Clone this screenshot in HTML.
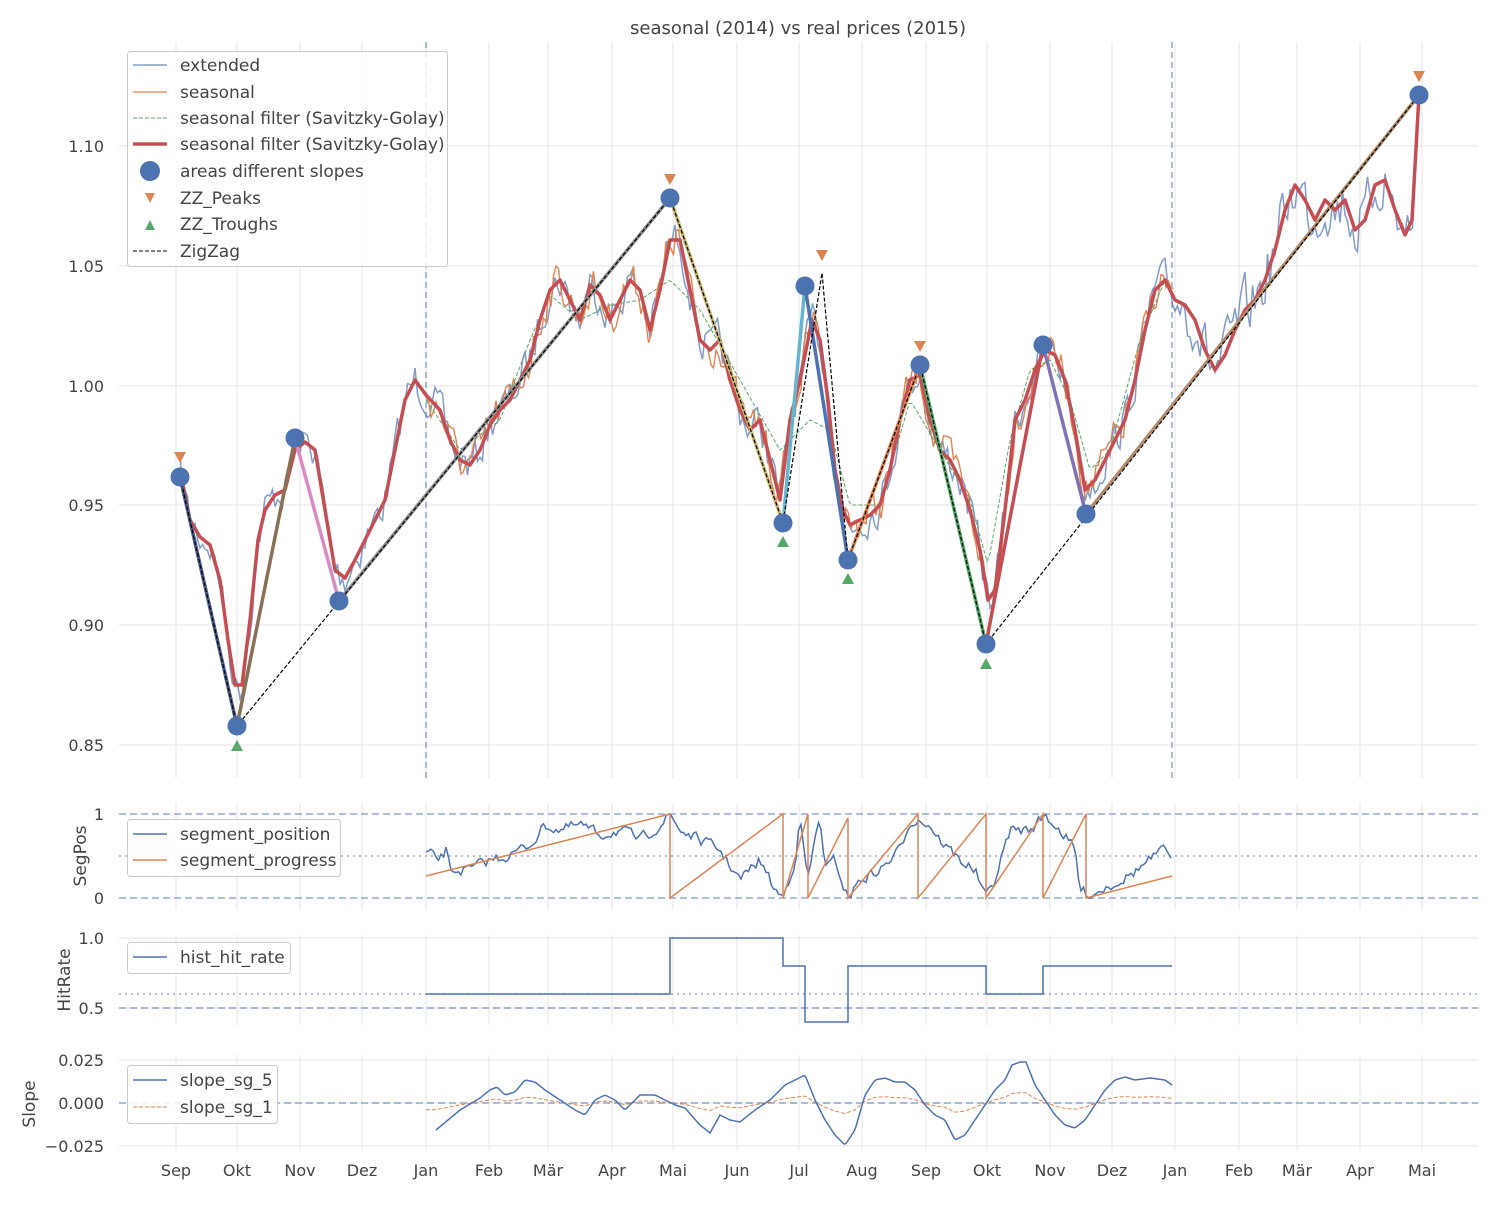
<!DOCTYPE html>
<html><head><meta charset="utf-8"><style>
body{margin:0;background:#fff}
svg text{font-family:"DejaVu Sans","Liberation Sans",sans-serif;fill:#444}
</style></head><body>
<svg id="s" width="1500" height="1200" viewBox="0 0 1500 1200" xmlns="http://www.w3.org/2000/svg">
<rect width="1500" height="1200" fill="#fff"/>
<g id="grid" stroke="#e5e5e5" stroke-width="1"></g>
<g id="plot"></g>
<text x="798" y="34" text-anchor="middle" font-size="18">seasonal (2014) vs real prices (2015)</text>
<g font-size="16" text-anchor="end">
<text x="104" y="152">1.10</text><text x="104" y="272">1.05</text><text x="104" y="392">1.00</text>
<text x="104" y="511">0.95</text><text x="104" y="631">0.90</text><text x="104" y="751">0.85</text>
<text x="104" y="820">1</text><text x="104" y="904">0</text>
<text x="104" y="944">1.0</text><text x="104" y="1014">0.5</text>
<text x="104" y="1066">0.025</text><text x="104" y="1109">0.000</text><text x="104" y="1152">−0.025</text>
</g>
<g font-size="17">
<text transform="translate(86,856) rotate(-90)" text-anchor="middle">SegPos</text>
<text transform="translate(70,980) rotate(-90)" text-anchor="middle">HitRate</text>
<text transform="translate(35,1104) rotate(-90)" text-anchor="middle">Slope</text>
</g>
<g id="xt" font-size="16" text-anchor="middle"></g>
<g>
<rect x="127.5" y="51.5" width="320" height="215" rx="3" fill="#fff" fill-opacity="0.85" stroke="#ccc"/>
<line x1="133" y1="65" x2="167" y2="65" stroke="#4c72b0" stroke-opacity="0.7" stroke-width="1.5"/>
<line x1="133" y1="92" x2="167" y2="92" stroke="#dd8452" stroke-width="1.3"/>
<line x1="133" y1="118" x2="167" y2="118" stroke="#55a868" stroke-width="1" stroke-dasharray="4,2"/>
<line x1="133" y1="144" x2="167" y2="144" stroke="#c44e52" stroke-width="3.5"/>
<circle cx="150" cy="171" r="10" fill="#4c72b0"/>
<path d="M145,193 L155,193 L150,203 Z" fill="#dd8452"/>
<path d="M145,230 L155,230 L150,220 Z" fill="#55a868"/>
<line x1="133" y1="251" x2="167" y2="251" stroke="#000" stroke-width="1" stroke-dasharray="4,2"/>
<g font-size="17"><text x="180" y="71">extended</text><text x="180" y="98">seasonal</text>
<text x="180" y="124">seasonal filter (Savitzky-Golay)</text><text x="180" y="150">seasonal filter (Savitzky-Golay)</text>
<text x="180" y="177">areas different slopes</text><text x="180" y="204">ZZ_Peaks</text>
<text x="180" y="230">ZZ_Troughs</text><text x="180" y="257">ZigZag</text></g>
</g>
<g>
<rect x="127.5" y="819.5" width="213" height="57" rx="3" fill="#fff" fill-opacity="0.85" stroke="#ccc"/>
<line x1="133" y1="834" x2="167" y2="834" stroke="#4c72b0" stroke-width="1.5"/>
<line x1="133" y1="860" x2="167" y2="860" stroke="#dd8452" stroke-width="1.5"/>
<text x="180" y="840" font-size="17">segment_position</text><text x="180" y="866" font-size="17">segment_progress</text>
<rect x="127.5" y="942.5" width="163" height="31" rx="3" fill="#fff" fill-opacity="0.85" stroke="#ccc"/>
<line x1="133" y1="957" x2="167" y2="957" stroke="#4c72b0" stroke-width="1.5"/>
<text x="180" y="963" font-size="17">hist_hit_rate</text>
<rect x="127.5" y="1065.5" width="150" height="58" rx="3" fill="#fff" fill-opacity="0.85" stroke="#ccc"/>
<line x1="133" y1="1080" x2="167" y2="1080" stroke="#4c72b0" stroke-width="1.5"/>
<line x1="133" y1="1107" x2="167" y2="1107" stroke="#dd8452" stroke-width="1" stroke-dasharray="4,2"/>
<text x="180" y="1086" font-size="17">slope_sg_5</text><text x="180" y="1113" font-size="17">slope_sg_1</text>
</g>
</svg>
<script>
(function(){
var NS="http://www.w3.org/2000/svg",g=document.getElementById("grid"),p=document.getElementById("plot"),xt=document.getElementById("xt");
function el(par,t,a){var e=document.createElementNS(NS,t);for(var k in a)e.setAttribute(k,a[k]);par.appendChild(e);return e;}
var mx=[176,237,300,362,426,489,548,612,673,737,799,862,926,987,1050,1112,1175,1239,1297,1360,1422];
var mn=["Sep","Okt","Nov","Dez","Jan","Feb","Mär","Apr","Mai","Jun","Jul","Aug","Sep","Okt","Nov","Dez","Jan","Feb","Mär","Apr","Mai"];
var panels=[[42,778],[803,910],[935,1025],[1055,1150]];
mx.forEach(function(x,i){panels.forEach(function(pp){el(g,"line",{x1:x,x2:x,y1:pp[0],y2:pp[1]});});
 var t=el(xt,"text",{x:x,y:1176});t.textContent=mn[i];});
[146,266,386,505,625,745].forEach(function(y){el(g,"line",{x1:119,x2:1478,y1:y,y2:y});});
[938,1008,1060,1103,1146].forEach(function(y){el(g,"line",{x1:119,x2:1478,y1:y,y2:y});});
function interp(pts,x){for(var i=0;i<pts.length-1;i++){if(x>=pts[i][0]&&x<=pts[i+1][0]){var t=(x-pts[i][0])/((pts[i+1][0]-pts[i][0])||1);return pts[i][1]+t*(pts[i+1][1]-pts[i][1]);}}return pts[pts.length-1][1];}
function pl(pts,a){el(p,"polyline",Object.assign({points:pts.map(function(q){return q[0].toFixed(1)+","+q[1].toFixed(1)}).join(" "),fill:"none"},a));}
var seed=7;function rnd(){seed=(seed*16807)%2147483647;return seed/2147483647-0.5;}
function hline(y,x1,x2,a){el(p,"line",Object.assign({x1:x1,x2:x2,y1:y,y2:y},a));}
[426,1172].forEach(function(x){el(p,"line",{x1:x,x2:x,y1:42,y2:778,stroke:"#4c72b0","stroke-opacity":0.6,"stroke-width":1.5,"stroke-dasharray":"6,4"});});
var red=[[180,470],[190,520],[200,537],[210,545],[220,580],[228,640],[235,685],[242,685],[250,620],[258,540],[265,510],[275,495],[285,490],[295,450],[305,442],[315,450],[325,510],[335,570],[345,578],[355,560],[365,540],[375,520],[385,500],[395,450],[405,400],[415,380],[426,395],[440,410],[450,440],[460,460],[470,465],[480,450],[490,425],[500,410],[510,400],[520,380],[530,360],[540,320],[550,290],[560,280],[570,300],[580,320],[590,285],[600,295],[610,320],[620,300],[630,280],[640,290],[650,330],[660,290],[670,240],[680,240],[690,290],[700,340],[710,350],[720,340],[730,380],[740,410],[750,430],[760,420],[770,460],[780,500],[790,420],[800,380],[812,320],[820,340],[828,400],[835,470],[843,510],[850,525],[860,520],[870,515],[880,505],[890,470],[900,420],[910,380],[920,375],[930,420],[940,450],[950,460],[960,480],[970,510],[980,550],[988,600],[995,590],[1005,510],[1015,420],[1025,400],[1035,370],[1045,350],[1055,355],[1065,380],[1075,430],[1085,490],[1095,480],[1105,460],[1115,440],[1125,420],[1135,380],[1145,330],[1155,290],[1165,280],[1175,300],[1185,305],[1195,320],[1205,350],[1215,370],[1225,355],[1235,330],[1245,310],[1255,300],[1265,280],[1275,250],[1285,210],[1295,185],[1305,200],[1315,220],[1325,200],[1335,210],[1345,200],[1355,230],[1365,220],[1375,185],[1385,180],[1395,210],[1405,235],[1412,220],[1419,95]];
function noisy(x0,x1,amp,ampFn){var o=[],prev=0;for(var x=x0;x<=x1;x+=2.5){var n=rnd()*amp*(ampFn?ampFn(x):1);prev=0.35*prev+n;o.push([x,interp(red,x)+prev]);}return o;}
pl(noisy(180,1419,34,function(x){return x>1175?1.6:1;}),{stroke:"#4c72b0","stroke-opacity":0.7,"stroke-width":1.5});
pl(noisy(426,1175,36),{stroke:"#dd8452","stroke-width":1.4});
var green=[[426,400],[460,450],[500,420],[530,340],[550,295],[580,320],[610,305],[640,300],[670,280],[700,310],[740,380],[780,450],[810,420],[830,430],[850,505],[880,505],[910,400],[940,450],[970,500],[988,565],[1010,440],[1030,370],[1050,360],[1070,400],[1090,470],[1110,450],[1140,340],[1165,280]];
var gs=[];for(var x=426;x<=1165;x+=3)gs.push([x,interp(green,x)]);
pl(gs,{stroke:"#55a868","stroke-width":1,"stroke-dasharray":"4,2"});
var rs=[];for(var x=180;x<=1419;x+=1)rs.push([x,interp(red,x)]);
pl(rs,{stroke:"#c44e52","stroke-width":3.5,"stroke-linejoin":"round"});
var segs=[[180,477,237,726,"#4c5a8a"],[237,726,295,438,"#8c7055"],[295,438,339,601,"#da8bc3"],[339,601,670,198,"#8c8c8c"],[670,198,783,523,"#ccb974"],[783,523,805,286,"#64b5cd"],[805,286,848,560,"#4c72b0"],[848,560,920,365,"#dd8452"],[920,365,986,644,"#55a868"],[986,644,1043,345,"#c44e52"],[1043,345,1086,514,"#8172b3"],[1086,514,1419,95,"#b08a6a"]];
segs.forEach(function(s){el(p,"line",{x1:s[0],y1:s[1],x2:s[2],y2:s[3],stroke:s[4],"stroke-width":3.5});});
var zz=[[180,477],[237,726],[670,198],[783,523],[822,273],[848,560],[920,365],[986,644],[1419,95]];
pl(zz,{stroke:"#000","stroke-width":1.2,"stroke-dasharray":"4,2"});
[[180,477],[237,726],[295,438],[339,601],[670,198],[783,523],[805,286],[848,560],[920,365],[986,644],[1043,345],[1086,514],[1419,95]].forEach(function(c){el(p,"circle",{cx:c[0],cy:c[1],r:9.5,fill:"#4c72b0"});});
[[180,457],[670,179],[822,255],[920,346],[1419,76]].forEach(function(c){el(p,"path",{d:"M"+(c[0]-6)+","+(c[1]-5)+" L"+(c[0]+6)+","+(c[1]-5)+" L"+c[0]+","+(c[1]+6)+" Z",fill:"#dd8452"});});
[[237,746],[783,542],[848,579],[986,664]].forEach(function(c){el(p,"path",{d:"M"+(c[0]-6)+","+(c[1]+5)+" L"+(c[0]+6)+","+(c[1]+5)+" L"+c[0]+","+(c[1]-6)+" Z",fill:"#55a868"});});
var da={stroke:"#4c72b0","stroke-opacity":0.6,"stroke-width":1.5,"stroke-dasharray":"7,4"};
var dot={stroke:"#4c72b0","stroke-opacity":0.6,"stroke-width":1.5,"stroke-dasharray":"2,4"};
hline(814,119,1478,da);hline(898,119,1478,da);hline(856,119,1478,dot);
var sp=[[426,853],[440,860],[446,850],[450,870],[470,870],[490,860],[510,855],[530,845],[545,825],[560,830],[580,825],[600,835],[620,830],[640,840],[660,825],[670,815],[680,830],[700,840],[720,850],[740,880],[760,860],[775,890],[783,898],[795,860],[800,820],[808,880],[815,840],[820,815],[825,870],[835,860],[845,890],[848,898],[860,880],[880,870],[900,850],[910,820],[920,820],[930,825],[940,840],[960,860],[975,870],[986,898],[995,880],[1010,830],[1030,830],[1045,815],[1060,830],[1075,850],[1080,890],[1090,895],[1110,885],[1130,875],[1150,860],[1165,850],[1172,855]];
var sps=[],pv=0;for(var x=426;x<=1172;x+=2.5){pv=0.4*pv+rnd()*10;sps.push([x,Math.max(814,Math.min(898,interp(sp,x)+pv))]);}
pl(sps,{stroke:"#4c72b0","stroke-width":1.5});
pl([[426,876],[670,814],[670,898],[783,814],[783,898],[808,814],[808,898],[848,818],[848,898],[918,814],[918,898],[986,814],[986,898],[1043,814],[1043,898],[1086,814],[1086,898],[1172,876]],{stroke:"#dd8452","stroke-width":1.5});
hline(1008,119,1478,da);hline(994,119,1478,dot);
pl([[426,994],[670,994],[670,938],[783,938],[783,966],[805,966],[805,1022],[848,1022],[848,966],[986,966],[986,994],[1043,994],[1043,966],[1172,966]],{stroke:"#4c72b0","stroke-width":1.5});
hline(1103,119,1478,da);
var sl=[[436,1130],[460,1110],[480,1098],[490,1090],[497,1087],[505,1095],[515,1092],[525,1080],[535,1082],[545,1090],[560,1100],[575,1110],[585,1115],[595,1100],[605,1095],[615,1100],[625,1110],[640,1095],[655,1095],[665,1100],[675,1105],[685,1108],[700,1125],[710,1133],[720,1115],[730,1120],[740,1122],[755,1110],[770,1100],[785,1085],[795,1080],[805,1075],[815,1100],[825,1120],[835,1135],[845,1145],[855,1130],[865,1095],[875,1080],[885,1078],[895,1082],[905,1082],[915,1090],[925,1105],[935,1115],[945,1120],[955,1140],[965,1135],[975,1120],[985,1105],[995,1090],[1005,1080],[1012,1065],[1020,1062],[1026,1062],[1035,1085],[1045,1100],[1055,1115],[1065,1125],[1075,1128],[1085,1120],[1095,1105],[1105,1090],[1115,1080],[1125,1077],[1135,1080],[1150,1078],[1165,1080],[1172,1085]];
var s5=[],s1=[];for(var x=436;x<=1172;x+=2)s5.push([x,interp(sl,x)]);
for(var x=426;x<=1172;x+=2){var v=x<436?1130:interp(sl,x);s1.push([x,1103+(v-1103)*0.25]);}
pl(s1,{stroke:"#dd8452","stroke-width":1,"stroke-dasharray":"4,2"});
pl(s5,{stroke:"#4c72b0","stroke-width":1.5});
})();
</script>
</body></html>
